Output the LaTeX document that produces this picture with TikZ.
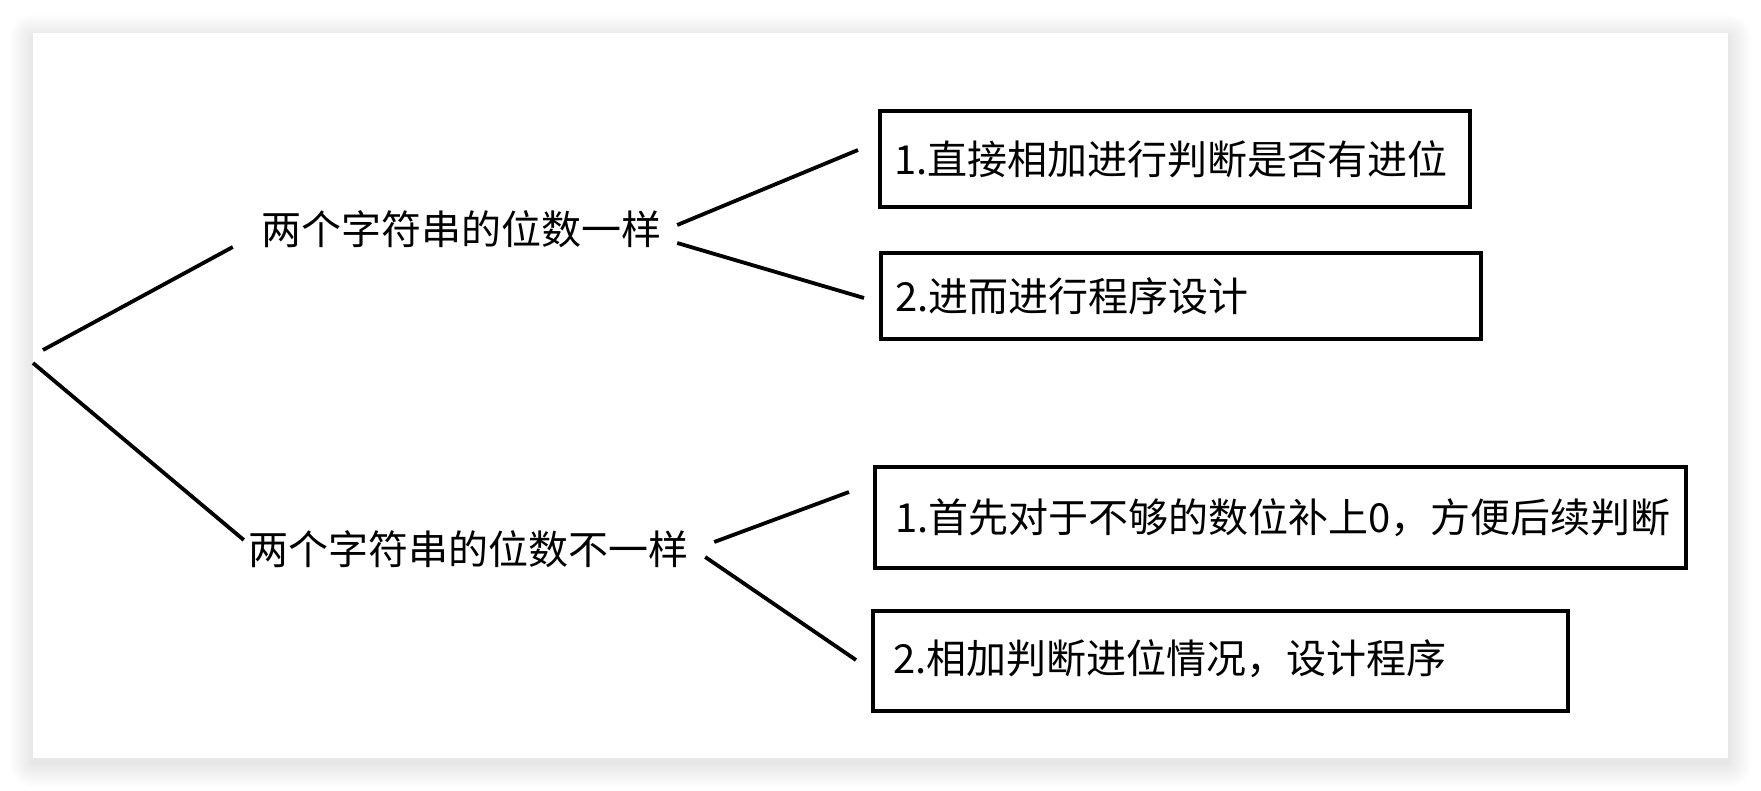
\documentclass[tikz,border=0pt]{standalone}
\usepackage{fontspec}
\newfontfamily\cjk{Noto Sans CJK SC}
\begin{document}
\begin{tikzpicture}[x=1pt,y=-1pt,
  lbl/.style={inner sep=0pt, font=\cjk\fontsize{40}{48}\selectfont},
  boxnode/.style={draw=black, line width=4pt, inner xsep=14pt, inner ysep=0pt, align=left, font=\cjk\fontsize{40}{48}\selectfont},
  conn/.style={draw=black, line width=3.8pt}]
\useasboundingbox (0,0) rectangle (1761,791);
\fill[white] (0,0) rectangle (1761,791);
% shadow of the card
\foreach \i in {1,...,24}{
  \fill[black, opacity=0.0045, rounded corners=\i pt] (33-\i,33-\i+5) rectangle (1728+\i,758+\i+5);
}
\fill[white] (33,33) rectangle (1728,758);
% labels
\node[lbl] (t1) at (461,229) {两个字符串的位数一样};
\node[lbl] (t2) at (468,549) {两个字符串的位数不一样};
% boxes
\node[boxnode, text width=562pt, minimum height=96pt] (b1) at (1175,159) {1.直接相加进行判断是否有进位};
\node[boxnode, text width=572pt, minimum height=86pt] (b2) at (1181,296) {2.进而进行程序设计};
\node[boxnode, text width=783pt, minimum height=101pt, inner xsep=20pt, text width=771pt] (b3) at (1280.5,517.5) {1.首先对于不够的数位补上0，方便后续判断};
\node[boxnode, minimum height=100pt, inner xsep=20pt, text width=655pt] (b4) at (1220.5,661) {\raisebox{9pt}{2.相加判断进位情况，设计程序}};
% roots
\coordinate (r1) at (43,350);
\coordinate (r2) at (33,363);
% connectors
\draw[conn] (r1) -- ([shift={(-28,18)}]t1.west);
\draw[conn] (r2) -- ([shift={(-4,-9)}]t2.west);
\draw[conn] ([shift={(16,-4)}]t1.east) -- ([shift={(-20,-9)}]b1.west);
\draw[conn] ([shift={(16,14)}]t1.east) -- ([shift={(-15,2)}]b2.west);
\draw[conn] ([shift={(26,-7)}]t2.east) -- ([shift={(-24,-25.5)}]b3.west);
\draw[conn] ([shift={(17,8)}]t2.east) -- ([shift={(-15,-1)}]b4.west);
\end{tikzpicture}
\end{document}
